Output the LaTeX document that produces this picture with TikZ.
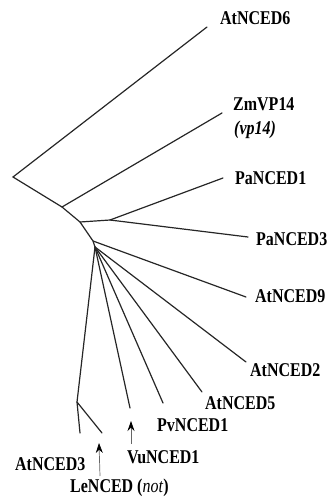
\documentclass[tikz,border=0pt]{standalone}
\usepackage{fontspec}
\usetikzlibrary{arrows.meta}
\newfontfamily\lblfont{Liberation Serif}[FakeStretch=0.82]
\begin{document}
\begin{tikzpicture}[x=1pt,y=-1pt,
  branch/.style={line width=1.2pt,draw=black!85,line cap=round},
  leaf/.style={anchor=base west,inner sep=0pt,font=\lblfont\bfseries\fontsize{19.5}{21}\selectfont},
  pointer/.style={line width=0.7pt,draw=black!60,-{Stealth[length=10pt,width=7pt,black]}}]
\useasboundingbox (0,0) rectangle (330,503);

% internal nodes of the tree
\coordinate (root) at (13,177);
\coordinate (n1) at (62,207);
\coordinate (n2) at (80,222);
\coordinate (npa) at (110,220);
\coordinate (n3) at (93,241);
\coordinate (n4) at (95,247);
\coordinate (n5) at (77,402);

% leaf tips
\coordinate (t6) at (207,27);
\coordinate (tzm) at (222,113);
\coordinate (tpa1) at (223,178);
\coordinate (tpa3) at (248,237);
\coordinate (t9) at (246,297);
\coordinate (t2) at (246,362);
\coordinate (t5) at (202,392);
\coordinate (tpv) at (163,403);
\coordinate (tvu) at (130,408);
\coordinate (t3) at (80,433);
\coordinate (tle) at (102,433);

% backbone and branches
\draw[branch] (t6) -- (root) -- (n1) -- (n2) -- (n3) -- (n4);
\draw[branch] (n1) -- (tzm);
\draw[branch] (n2) -- (npa) -- (tpa1);
\draw[branch] (npa) -- (tpa3);
\draw[branch] (n3) -- (t9);
\draw[branch] (n4) -- (t2);
\draw[branch] (n4) -- (t5);
\draw[branch] (n4) -- (tpv);
\draw[branch] (n4) -- (tvu);
\draw[branch] (n4) -- (n5) -- (t3);
\draw[branch] (n5) -- (tle);

% labels
\node[leaf] (l6) at (220,25) {AtNCED6};
\node[leaf] (lzm) at (233,110) {ZmVP14};
\node[leaf] (lvp) at (234,134) {\itshape(vp14)};
\node[leaf] (lpa1) at (235,184) {PaNCED1};
\node[leaf] (lpa3) at (256,245) {PaNCED3};
\node[leaf] (l9) at (255,302) {AtNCED9};
\node[leaf] (l2) at (250,376) {AtNCED2};
\node[leaf] (l5) at (205,409) {AtNCED5};
\node[leaf] (lpv) at (157,431) {PvNCED1};
\node[leaf] (lvu) at (127,463) {VuNCED1};
\node[leaf] (l3) at (15,470) {AtNCED3};
\node[leaf] (lle) at (70,492) {LeNCED (\textmd{\itshape not})};

% marker arrows
\coordinate (letail) at (100,476);
\coordinate (lehead) at (99,443);
\coordinate (vutail) at (131,444);
\coordinate (vuhead) at (131,421);
\draw[pointer] (letail) -- (lehead);
\draw[pointer] (vutail) -- (vuhead);
\end{tikzpicture}
\end{document}
